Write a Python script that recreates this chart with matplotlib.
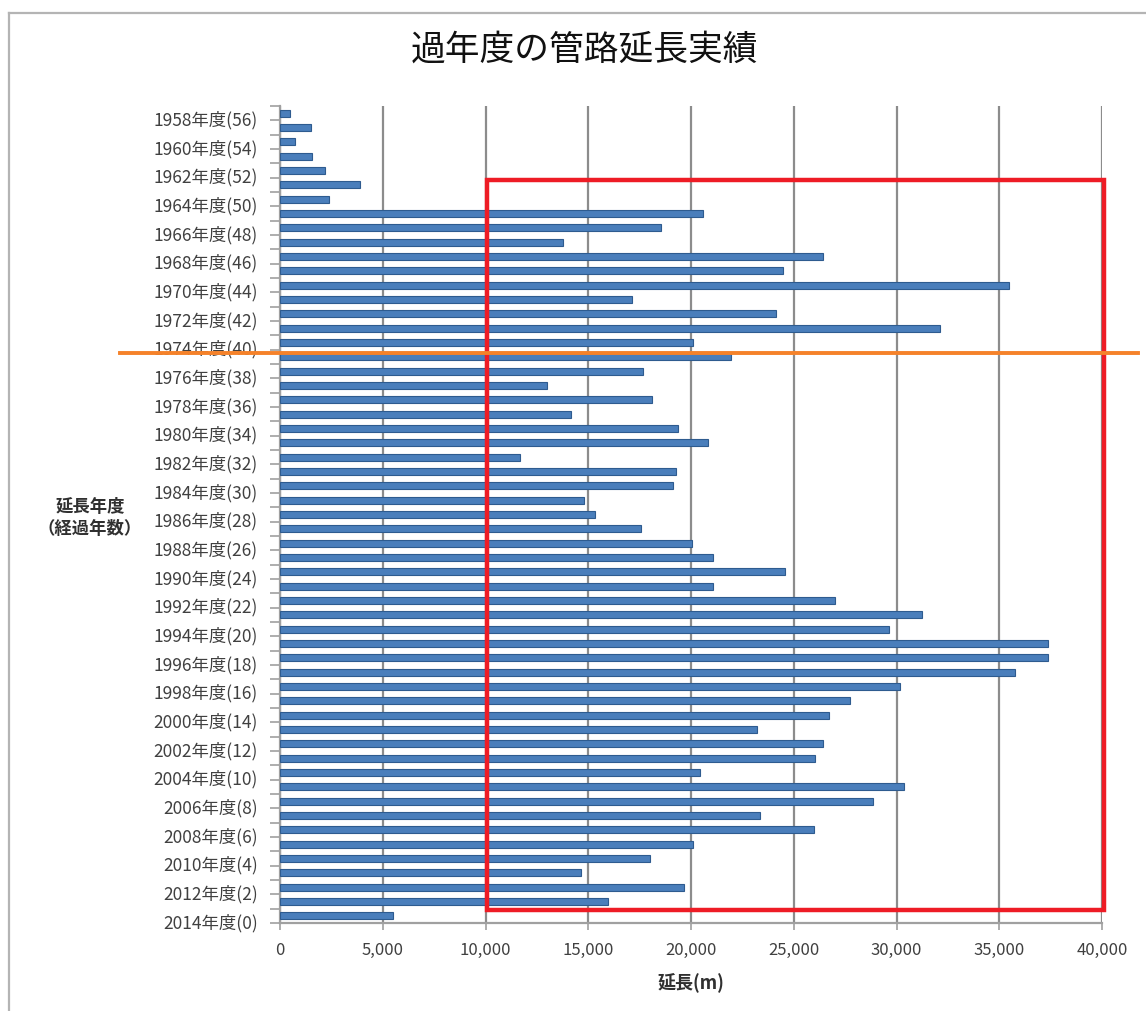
import numpy as np
import matplotlib
matplotlib.use('Agg')
import matplotlib.pyplot as plt
from matplotlib.lines import Line2D
from matplotlib.patches import Rectangle
import matplotlib.transforms as mtransforms

plt.rcParams['font.family'] = ['Noto Sans CJK JP', 'DejaVu Sans']

# 延長年度 and pipe length laid in that year (m)
years = list(range(1958, 2015))
lengths = [
    500, 1500, 750, 1550, 2200, 3900, 2400,                # 1958-1964
    20560, 18550, 13750, 26420, 24480, 35490, 17140,       # 1965-1971
    24150, 32120, 20110, 21970, 17650, 13010, 18120,       # 1972-1978
    14160, 19370, 20830, 11660, 19250, 19120, 14780,       # 1979-1985
    15310, 17570, 20070, 21090, 24580, 21050, 27000,       # 1986-1992
    31220, 29620, 37390, 37370, 35750, 30160, 27760,       # 1993-1999
    26730, 23200, 26440, 26010, 20420, 30360, 28880,       # 2000-2006
    23370, 25990, 20110, 18000, 14650, 19680, 15970,       # 2007-2013
    5500,                                                  # 2014
]
base_year = 2014
year_labels = [f"{y}年度({base_year - y})" for y in years]

x_ticks = [0, 5000, 10000, 15000, 20000, 25000, 30000, 35000, 40000]
x_tick_labels = [f"{v:,}" for v in x_ticks]

# highlighted region (x range in m, y range in bar positions)
box_x = (10050, 40100)
box_y = (4.66, 55.6)
split_y = 16.76

W, H = 1146, 1012
fig = plt.figure(figsize=(W / 100, H / 100), dpi=100)
fig.patch.set_facecolor('white')

left, right, top, bottom = 280, 1102, 107, 924
ax = fig.add_axes([left / W, 1 - bottom / H, (right - left) / W, (bottom - top) / H])

pos = np.arange(len(years))
ax.barh(pos, lengths, height=0.5, color='#4A7EBB', edgecolor='#2E5B8F',
        linewidth=0.8, zorder=3)

ax.set_xlim(0, 40000)
ax.set_ylim(len(years) - 0.5, -0.5)

ax.set_xticks(x_ticks)
ax.set_xticklabels(x_tick_labels, fontsize=12, color='#404040')
ax.xaxis.grid(True, color='#8C8C8C', linewidth=1.6, zorder=0)
ax.tick_params(axis='x', length=5, width=1.2, color='#A0A0A0', pad=8)

even = pos[::2]
ax.set_yticks(even)
ax.set_yticklabels(year_labels[::2], fontsize=12.5, color='#404040')
ax.set_yticks(np.arange(-0.5, len(years), 1), minor=True)
ax.tick_params(axis='y', which='major', length=0, pad=16)
ax.tick_params(axis='y', which='minor', length=7, width=1.2, color='#A0A0A0')
shift = mtransforms.ScaledTranslation(0, -4 / 100, fig.dpi_scale_trans)
for lab in ax.get_yticklabels():
    lab.set_transform(lab.get_transform() + shift)

for side in ['top', 'right']:
    ax.spines[side].set_visible(False)
for side in ['left', 'bottom']:
    ax.spines[side].set_color('#A0A0A0')
    ax.spines[side].set_linewidth(1.6)

ax.set_xlabel('延長(m)', fontsize=13, fontweight='bold', color='#303030', labelpad=10)

fig.text(90 / W, 1 - 518 / H, '延長年度\n（経過年数）', ha='center', va='center',
         fontsize=12.5, fontweight='bold', color='#303030', linespacing=1.3)

fig.text(584 / W, 1 - 50 / H, '過年度の管路延長実績', ha='center', va='center',
         fontsize=25, color='#111111')

# red box over the bars
ax.add_patch(Rectangle((box_x[0], box_y[0]), box_x[1] - box_x[0], box_y[1] - box_y[0],
                       fill=False, edgecolor='#EE1C25', linewidth=3.2,
                       clip_on=False, zorder=5))

# orange split line across the whole chart
trans = mtransforms.blended_transform_factory(ax.transAxes, ax.transData)
ax.plot([(120 - left) / (right - left), (1138 - left) / (right - left)], [split_y, split_y],
        color='#F5822A', linewidth=2.8, transform=trans, clip_on=False, zorder=6)

# outer frame (top and left edges)
fig.add_artist(Line2D([9 / W, 1], [1 - 14 / H, 1 - 14 / H], color='#B4B4B4', linewidth=1.6))
fig.add_artist(Line2D([9 / W, 9 / W], [0, 1 - 14 / H], color='#B4B4B4', linewidth=1.6))

fig.savefig('out.png', dpi=100)
